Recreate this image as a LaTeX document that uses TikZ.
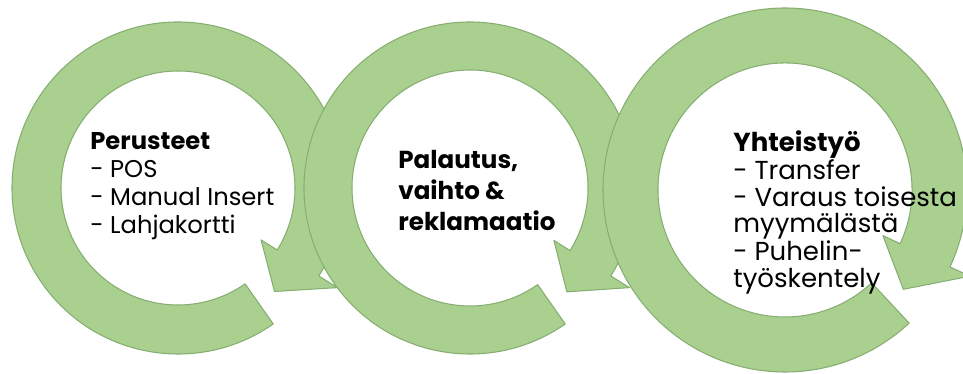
\documentclass[tikz,border=0pt]{standalone}
\usepackage{fontspec}
\setmainfont{Poppins}
\usetikzlibrary{positioning}
\definecolor{ringfill}{HTML}{A9D08E}
\definecolor{ringline}{HTML}{86AE72}
\begin{document}
\begin{tikzpicture}[x=0.02cm,y=0.02cm,
  every node/.style={font=\fontsize{13.8}{15.9}\selectfont, text=black, inner sep=0pt},
  ring/.style={fill=ringfill, draw=ringline, line width=0.6pt, line join=round},
  txt/.style={align=left, anchor=north west}]
  \useasboundingbox (0,0) rectangle (963,374);
  % circular arrows: centre x/y, outer, inner, tail, head base, tip
  \foreach \cx/\cy/\R/\r/\t/\b/\p in {178/186/166/117/-55/-392/-407,
      470/186/166/118/-55/-392/-407, 785/184/182/127/-47/-385/-400} {
    \begin{scope}[shift={(\cx,\cy)}]
      \draw[ring] (\t:\R) arc[start angle=\t, end angle=\b, radius=\R]
        -- (\b:{\R+22}) -- (\p:{(\R+\r)/2}) -- (\b:{\r-19}) -- (\b:\r)
        arc[start angle=\b, end angle=\t, radius=\r] -- cycle;
    \end{scope}
  }
  \node[txt] (perus) at (90,242) {\textbf{Perusteet}\\- POS\\- Manual Insert\\- Lahjakortti};
  \node[txt, font=\fontsize{14}{17.5}\selectfont\bfseries] (palautus) at (398,224)
    {Palautus,\\vaihto \&\\reklamaatio};
  \node[txt, font=\fontsize{14.8}{15}\selectfont] (yhteis) at (733,244)
    {\textbf{Yhteistyö}\\- Transfer\\- Varaus toisesta\\myymälästä\\- Puhelin-\\työskentely};
\end{tikzpicture}
\end{document}
